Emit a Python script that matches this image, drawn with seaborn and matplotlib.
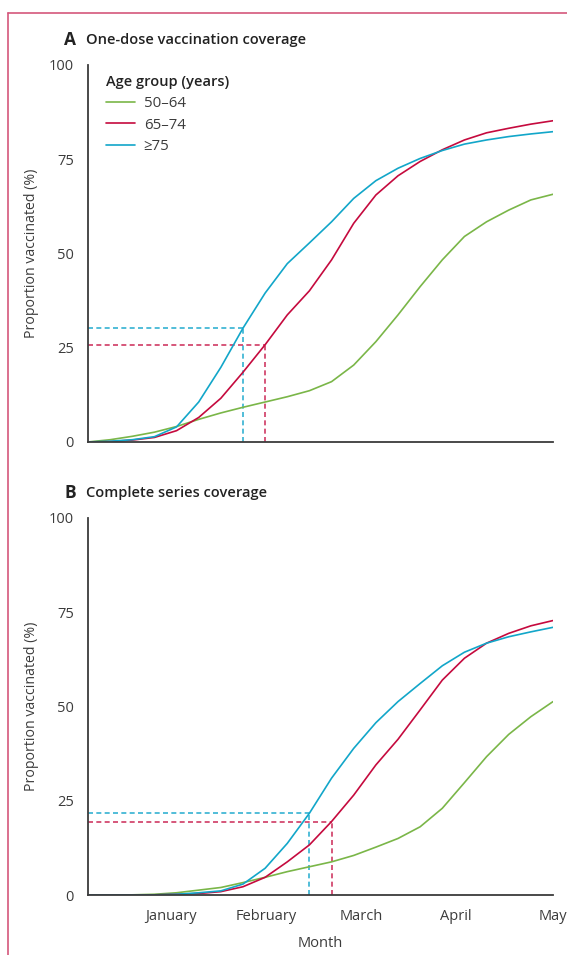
import pandas as pd
import numpy as np
import matplotlib
matplotlib.use("Agg")
import matplotlib.pyplot as plt
from matplotlib.lines import Line2D
import seaborn as sns

# weekly points, week 0 = start of the x axis
weeks = list(range(22))
age_groups = ["50–64", "65–74", "≥75"]
months = ["January", "February", "March", "April", "May"]
month_weeks = [3.75, 8.04, 12.33, 16.62, 21.0]

one_dose_50_64 = [0, 0.6, 1.5, 2.6, 4.1, 6.0, 7.7, 9.2, 10.6, 12.0, 13.6, 16.0,
                  20.4, 26.6, 33.7, 41.2, 48.3, 54.5, 58.4, 61.5, 64.2, 65.7]
one_dose_65_74 = [0, 0.1, 0.5, 1.2, 3.0, 6.5, 11.6, 18.5, 25.8, 33.7, 40.1, 48.3,
                  58.0, 65.5, 70.6, 74.4, 77.5, 80.1, 82.0, 83.2, 84.3, 85.2]
one_dose_75 = [0, 0.2, 0.6, 1.4, 4.0, 10.6, 19.8, 30.2, 39.5, 47.3, 52.8, 58.4,
               64.6, 69.3, 72.6, 75.2, 77.3, 79.0, 80.1, 81.0, 81.7, 82.3]

complete_50_64 = [0, 0, 0.05, 0.2, 0.6, 1.3, 2.0, 3.3, 4.7, 6.2, 7.5, 8.8,
                  10.5, 12.7, 15.0, 18.1, 23.0, 29.8, 36.7, 42.6, 47.3, 51.3]
complete_65_74 = [0, 0, 0, 0.05, 0.2, 0.4, 0.9, 2.2, 4.7, 8.8, 13.3, 19.5,
                  26.5, 34.5, 41.3, 49.1, 57.0, 62.8, 66.8, 69.4, 71.4, 72.8]
complete_75 = [0, 0, 0, 0.05, 0.2, 0.6, 1.1, 2.9, 7.1, 13.7, 21.7, 31.0,
               38.9, 45.7, 51.3, 56.1, 60.8, 64.4, 66.8, 68.5, 69.8, 71.0]

# week at which the dashed guide lines are drawn
one_dose_marks = {"≥75": 7, "65–74": 8}
complete_marks = {"≥75": 10, "65–74": 11}

colors = {"50–64": "#7ab648", "65–74": "#c50a3e", "≥75": "#12a6c9"}
dash_colors = {"65–74": "#cf3a63", "≥75": "#34b2d2"}
ink = "#3c3c3c"


def to_long(a, b, c):
    rows = []
    for grp, vals in zip(age_groups, [a, b, c]):
        for w, v in zip(weeks, vals):
            rows.append({"week": w, "value": v, "group": grp})
    return pd.DataFrame(rows)


def draw_panel(ax, df, marks, show_labels):
    sns.lineplot(data=df, x="week", y="value", hue="group", hue_order=age_groups,
                 palette=colors, linewidth=1.2, ax=ax, legend=False)
    for grp, w in marks.items():
        v = df[(df.group == grp) & (df.week == w)].value.iloc[0]
        ax.plot([0, w], [v, v], ls=(0, (3, 2)), color=dash_colors[grp], lw=1.2, zorder=1)
        ax.plot([w, w], [0, v], ls=(0, (3, 2)), color=dash_colors[grp], lw=1.2, zorder=1)
    ax.set_xlim(0, 21)
    ax.set_ylim(0, 100)
    ax.set_yticks([0, 25, 50, 75, 100])
    ax.set_xticks(month_weeks)
    ax.set_xticklabels(months if show_labels else [])
    sns.despine(ax=ax)
    for s in ["left", "bottom"]:
        ax.spines[s].set_color(ink)
        ax.spines[s].set_linewidth(1.3)
    ax.tick_params(axis="both", length=7, width=1.2, color=ink, labelcolor=ink,
                   labelsize=10.5, pad=3)
    ax.set_ylabel("Proportion vaccinated (%)", fontsize=10.2, color=ink)
    ax.yaxis.set_label_coords(-0.106, 0.5)
    ax.set_xlabel("Month" if show_labels else "", fontsize=10.5, color=ink)
    ax.xaxis.set_label_coords(0.5, -0.108)


sns.set_style("white")
plt.rcParams["font.family"] = ["Open Sans", "DejaVu Sans"]

fig = plt.figure(figsize=(5.67, 9.55), dpi=100)
ax_a = fig.add_axes([0.1552, 0.5372, 0.8201, 0.3948])
ax_b = fig.add_axes([0.1552, 0.0628, 0.8201, 0.3948])

draw_panel(ax_a, to_long(one_dose_50_64, one_dose_65_74, one_dose_75), one_dose_marks, False)
draw_panel(ax_b, to_long(complete_50_64, complete_65_74, complete_75), complete_marks, True)

handles = [Line2D([], [], color=colors[g], lw=1.2) for g in age_groups]
leg = ax_a.legend(handles, age_groups, title="Age group (years)", loc="upper left",
                  bbox_to_anchor=(0.039, 0.973), frameon=False, fontsize=10.8,
                  handlelength=1.9, handletextpad=0.6, labelspacing=0.45,
                  borderpad=0, borderaxespad=0, alignment="left",
                  title_fontproperties={"weight": "semibold", "size": 10.5})
for t in leg.get_texts():
    t.set_color(ink)
leg.get_title().set_color("#222222")

fig.text(64 / 567, 1 - 40 / 955, "A", fontsize=12.5, weight="bold", color="#222222", va="center")
fig.text(86 / 567, 1 - 40 / 955, "One-dose vaccination coverage", fontsize=10.5,
         weight="semibold", color="#222222", va="center")
fig.text(64 / 567, 1 - 493 / 955, "B", fontsize=12.5, weight="bold", color="#222222", va="center")
fig.text(86 / 567, 1 - 493 / 955, "Complete series coverage", fontsize=10.5,
         weight="semibold", color="#222222", va="center")

# thin frame on top and left
frame = "#d4577c"
fig.add_artist(Line2D([8 / 567, 1], [1 - 13 / 955, 1 - 13 / 955], color=frame, lw=1.2))
fig.add_artist(Line2D([8 / 567, 8 / 567], [0, 1 - 13 / 955], color=frame, lw=1.2))

fig.savefig("out.png", dpi=100)
